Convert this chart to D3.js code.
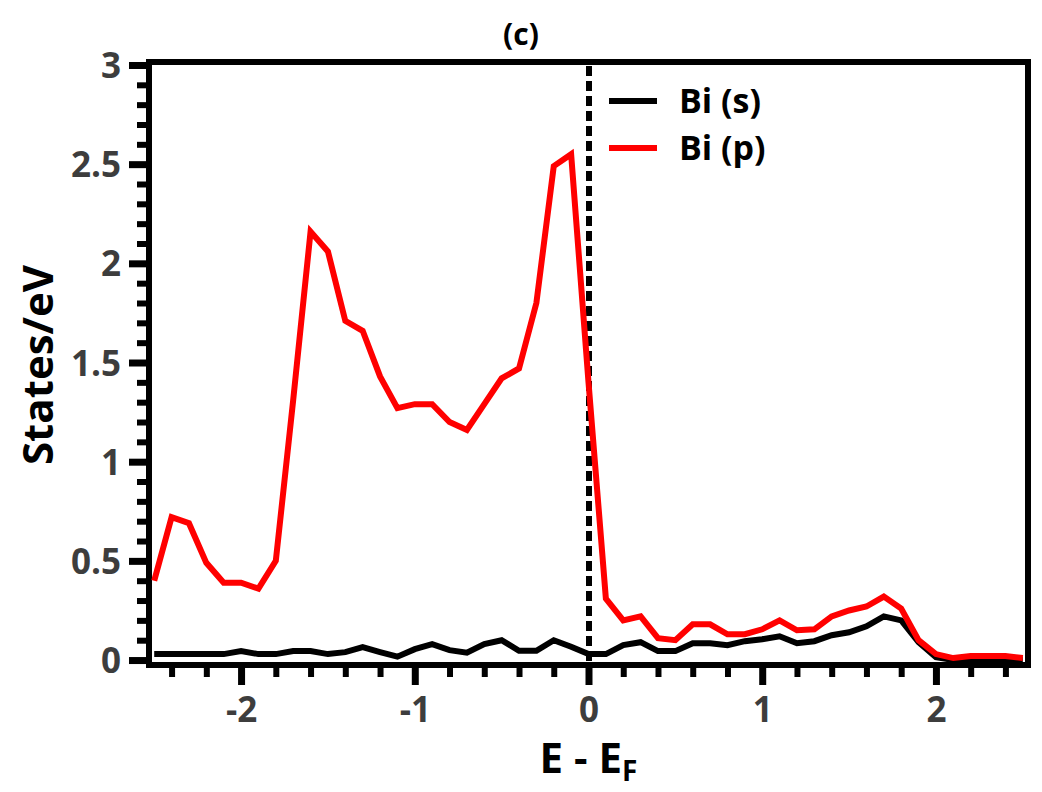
<!DOCTYPE html>
<html>
<head>
<meta charset="utf-8">
<script src="https://cdn.jsdelivr.net/npm/d3@7"></script>
<style>
  body { margin: 0; background: #fff; }
  svg { display: block; font-family: "Open Sans", sans-serif; }
</style>
</head>
<body>
<div id="chart"></div>
<script>
// energy grid (eV, relative to E_F)
const energy = [-2.5, -2.4, -2.3, -2.2, -2.1, -2.0, -1.9, -1.8, -1.7, -1.6,
  -1.5, -1.4, -1.3, -1.2, -1.1, -1.0, -0.9, -0.8, -0.7, -0.6,
  -0.5, -0.4, -0.3, -0.2, -0.1, 0.0, 0.1, 0.2, 0.3, 0.4,
  0.5, 0.6, 0.7, 0.8, 0.9, 1.0, 1.1, 1.2, 1.3, 1.4,
  1.5, 1.6, 1.7, 1.8, 1.9, 2.0, 2.1, 2.2, 2.3, 2.4, 2.5];

// Bi (s) states
const biS = [0.03, 0.03, 0.03, 0.03, 0.03, 0.045, 0.03, 0.03, 0.045, 0.045,
  0.03, 0.04, 0.065, 0.04, 0.017, 0.055, 0.08, 0.05, 0.037, 0.08,
  0.10, 0.047, 0.047, 0.10, 0.067, 0.03, 0.03, 0.075, 0.09, 0.045,
  0.045, 0.085, 0.085, 0.075, 0.095, 0.105, 0.12, 0.085, 0.095, 0.125,
  0.14, 0.17, 0.22, 0.20, 0.09, 0.015, 0.0, 0.0, 0.0, 0.0, 0.0];

// Bi (p) states
const biP = [0.40, 0.72, 0.69, 0.49, 0.39, 0.39, 0.36, 0.50, 1.31, 2.16,
  2.06, 1.71, 1.66, 1.43, 1.27, 1.29, 1.29, 1.20, 1.16, 1.29,
  1.42, 1.47, 1.80, 2.49, 2.55, 1.40, 0.31, 0.20, 0.22, 0.11,
  0.10, 0.18, 0.18, 0.13, 0.13, 0.155, 0.20, 0.15, 0.155, 0.22,
  0.25, 0.27, 0.32, 0.26, 0.10, 0.03, 0.01, 0.02, 0.02, 0.02, 0.01];

const seriesNames = ["Bi (s)", "Bi (p)"];
const seriesColors = ["#000000", "#ff0000"];
const xTickValues = [-2, -1, 0, 1, 2];
const yTickValues = [0, 0.5, 1, 1.5, 2, 2.5, 3];
const yTickLabels = ["0", "0.5", "1", "1.5", "2", "2.5", "3"];

const width = 1042;
const height = 792;
const plotL = 149, plotR = 1028, plotT = 62, plotB = 665;

const svg = d3.select("#chart")
    .append("svg")
    .attr("width", width)
    .attr("height", height);

const x = d3.scaleLinear().domain([-2.53, 2.53]).range([plotL, plotR]);
const y = d3.scaleLinear().domain([-0.025, 3.015]).range([plotB, plotT]);

// minor tick positions
const xMinor = d3.range(-24, 25, 2).map(d => d / 10).filter(d => !xTickValues.includes(d));
const yMinor = d3.range(0, 31, 1).map(d => d / 10).filter(d => Math.round(d * 10) % 5 !== 0);

// x axis ticks
const xMinorAxis = svg.append("g")
    .attr("transform", `translate(0,${plotB})`)
    .call(d3.axisBottom(x).tickValues(xMinor).tickSize(12).tickSizeOuter(0).tickFormat(""));
const xMajorAxis = svg.append("g")
    .attr("transform", `translate(0,${plotB})`)
    .call(d3.axisBottom(x).tickValues(xTickValues).tickSize(20).tickSizeOuter(0).tickPadding(12)
        .tickFormat(d => d));

// y axis ticks
const yMinorAxis = svg.append("g")
    .attr("transform", `translate(${plotL},0)`)
    .call(d3.axisLeft(y).tickValues(yMinor).tickSize(12).tickSizeOuter(0).tickFormat(""));
const yMajorAxis = svg.append("g")
    .attr("transform", `translate(${plotL},0)`)
    .call(d3.axisLeft(y).tickValues(yTickValues).tickSize(20).tickSizeOuter(0).tickPadding(8)
        .tickFormat((d, i) => yTickLabels[i]));

[xMinorAxis, xMajorAxis, yMinorAxis, yMajorAxis].forEach(a => a.select(".domain").remove());
[xMinorAxis, yMinorAxis].forEach(a => a.selectAll(".tick line").attr("stroke", "#000").attr("stroke-width", 6));
[xMajorAxis, yMajorAxis].forEach(a => {
    a.selectAll(".tick line").attr("stroke", "#000").attr("stroke-width", 7);
    a.selectAll(".tick text")
        .attr("fill", "#3d3d3d")
        .attr("font-size", 35)
        .attr("font-weight", "bold")
        .attr("font-family", "'Open Sans', sans-serif");
});
yMajorAxis.selectAll(".tick text").attr("dy", "0.36em");

// frame
const frame = svg.append("g").attr("stroke", "#000").attr("stroke-width", 6);
frame.append("line").attr("x1", plotL).attr("x2", plotL).attr("y1", plotT - 3).attr("y2", plotB + 3);
frame.append("line").attr("x1", plotR).attr("x2", plotR).attr("y1", plotT - 3).attr("y2", plotB + 3);
frame.append("line").attr("x1", plotL - 3).attr("x2", plotR + 3).attr("y1", plotT).attr("y2", plotT);
frame.append("line").attr("x1", plotL - 3).attr("x2", plotR + 3).attr("y1", plotB).attr("y2", plotB);

// Fermi level
svg.append("line")
    .attr("x1", Math.round(x(0))).attr("x2", Math.round(x(0)))
    .attr("y1", plotT + 4).attr("y2", plotB - 3)
    .attr("stroke", "#000")
    .attr("stroke-width", 6)
    .attr("stroke-dasharray", "10,5");

// curves
const line = d3.line()
    .x((d, i) => x(energy[i]))
    .y(d => y(d));

[biS, biP].forEach((s, k) => {
    svg.append("path")
        .datum(s)
        .attr("fill", "none")
        .attr("stroke", seriesColors[k])
        .attr("stroke-width", 6)
        .attr("stroke-linejoin", "miter")
        .attr("d", line);
});

// legend
const legend = svg.append("g");
seriesNames.forEach((name, k) => {
    const ly = 101 + k * 47;
    legend.append("line")
        .attr("x1", 609).attr("x2", 657)
        .attr("y1", ly).attr("y2", ly)
        .attr("stroke", seriesColors[k])
        .attr("stroke-width", 6);
    legend.append("text")
        .attr("x", 679).attr("y", ly + 12)
        .attr("font-size", 34)
        .attr("font-weight", "bold")
        .attr("fill", "#000")
        .text(name);
});

// title
svg.append("text")
    .attr("x", 521).attr("y", 45)
    .attr("text-anchor", "middle")
    .attr("font-size", 30)
    .attr("font-weight", "bold")
    .text("(c)");

// axis labels
const xl = svg.append("text")
    .attr("x", x(0)).attr("y", 773)
    .attr("text-anchor", "middle")
    .attr("font-size", 42)
    .attr("font-weight", "bold");
xl.append("tspan").text("E - E");
xl.append("tspan").attr("font-size", 28).attr("dy", 8).text("F");

svg.append("text")
    .attr("transform", `translate(53,${365}) rotate(-90)`)
    .attr("text-anchor", "middle")
    .attr("font-size", 42)
    .attr("font-weight", "bold")
    .text("States/eV");
</script>
</body>
</html>
